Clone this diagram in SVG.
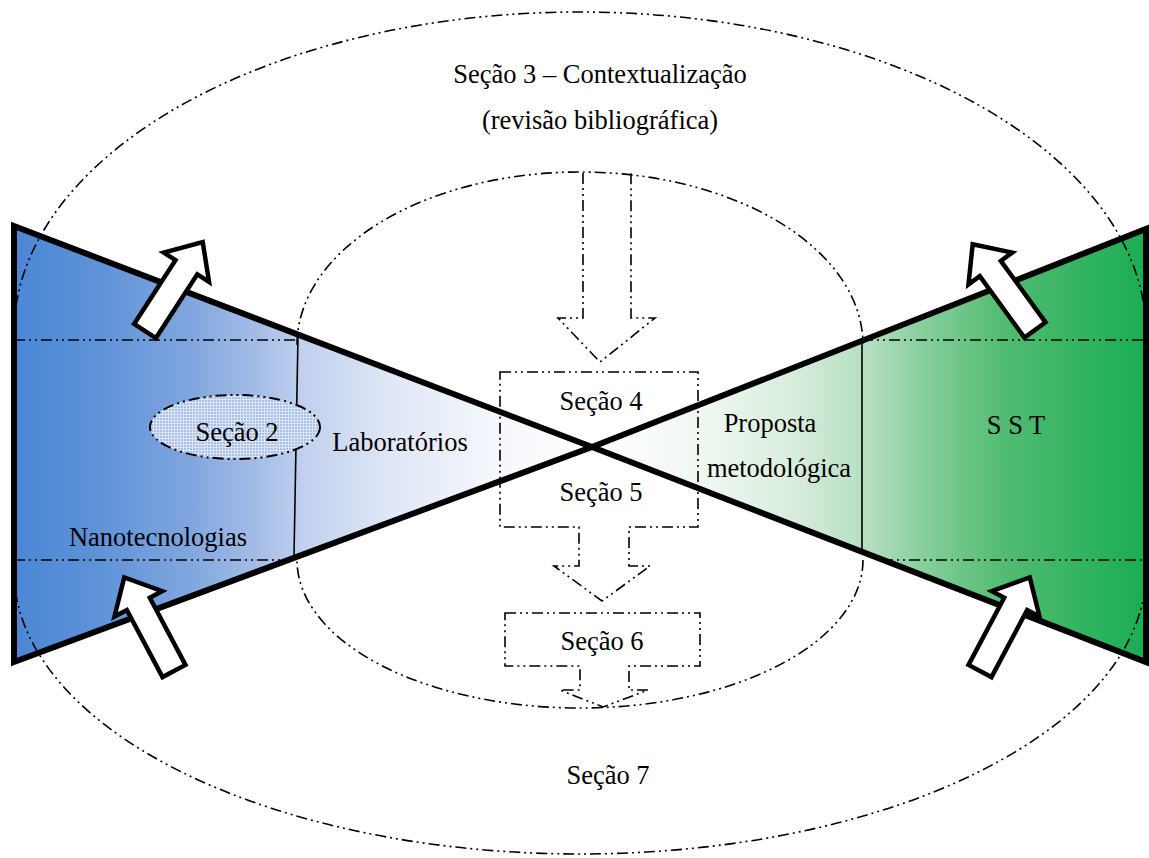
<svg xmlns="http://www.w3.org/2000/svg" width="1149" height="858" viewBox="0 0 1149 858">
<style>
.dd{fill:none;stroke:#000;stroke-width:1.6;stroke-dasharray:11 4 2 4 2 4}
.thin{fill:none;stroke:#000;stroke-width:1.6}
.t{font-family:"Liberation Serif","Times New Roman",serif;font-size:26.5px;fill:#000;text-anchor:middle}
.wa{fill:#fff;stroke:#000;stroke-width:4.5;stroke-linejoin:miter}
</style>
<defs>
<linearGradient id="gl" gradientUnits="userSpaceOnUse" x1="14" y1="0" x2="592" y2="0">
<stop offset="0" stop-color="#4b86d5"/><stop offset="0.15" stop-color="#5f93d8"/><stop offset="0.3" stop-color="#7fa5de"/><stop offset="0.42" stop-color="#a4bde6"/><stop offset="0.5" stop-color="#c0d0ee"/><stop offset="0.65" stop-color="#dfe7f6"/><stop offset="0.85" stop-color="#f6f8fc"/><stop offset="1" stop-color="#ffffff"/>
</linearGradient>
<linearGradient id="gr" gradientUnits="userSpaceOnUse" x1="1146" y1="0" x2="592" y2="0">
<stop offset="0" stop-color="#1aad52"/><stop offset="0.25" stop-color="#50bb71"/><stop offset="0.4" stop-color="#86ce9b"/><stop offset="0.5" stop-color="#b5dec0"/><stop offset="0.65" stop-color="#dbeedf"/><stop offset="0.85" stop-color="#f5faf6"/><stop offset="1" stop-color="#ffffff"/>
</linearGradient>
<pattern id="grid" patternUnits="userSpaceOnUse" width="3" height="3">
<rect width="3" height="3" fill="#a7bfe7"/>
<path d="M0,0.5H3M0.5,0V3" stroke="#fff" stroke-width="1" opacity="0.6"/>
</pattern>
<path id="warrow" d="M0,-13 L76,-13 L76,-27 L106,0 L76,27 L76,13 L0,13 Z"/>
</defs>

<g id="bowtie">
<polygon points="14,226 592,447 14,662" fill="url(#gl)"/>
<polygon points="1146,229 592,447 1146,662" fill="url(#gr)"/>
<line class="dd" x1="14" y1="340" x2="297" y2="340"/>
<line class="dd" x1="14" y1="560" x2="282" y2="560"/>
<line class="dd" x1="862" y1="340" x2="1146" y2="340"/>
<line class="dd" x1="882" y1="560" x2="1146" y2="560"/>
<line class="thin" x1="298" y1="335" x2="294" y2="556"/>
<line class="thin" x1="862" y1="338" x2="862" y2="552"/>
<path d="M14,226 L592,447 L1146,662 L1146,229 L592,447 L14,662 Z" fill="none" stroke="#000" stroke-width="6" stroke-linejoin="miter"/>
</g>

<g id="secao3">
<path class="dd" d="M14,333 A566,321 0 0 1 1146,333 L1146,571 A566,283 0 0 1 14,571 Z"/>
<text class="t" x="600" y="83">Seção 3 – Contextualização</text>
<text class="t" x="600" y="129">(revisão bibliográfica)</text>
</g>

<g id="inner">
<path class="dd" d="M297,345 A283,173 0 0 1 863,345"/>
<path class="dd" d="M863,560 A283,148 0 0 1 297,560"/>
</g>

<g id="secao2">
<ellipse cx="235" cy="427" rx="85" ry="32" fill="url(#grid)" stroke="#000" stroke-width="2" stroke-dasharray="11 4 2 4 2 4"/>
<text class="t" x="237" y="441">Seção 2</text>
</g>

<g id="labels">
<text class="t" x="400" y="451">Laboratórios</text>
<text class="t" x="158" y="546">Nanotecnologias</text>
<text class="t" x="770" y="432">Proposta</text>
<text class="t" x="779" y="477">metodológica</text>
<text class="t" x="1016" y="434">S S T</text>
<text class="t" x="608" y="784">Seção 7</text>
</g>

<g id="secao45">
<path class="dd" d="M500,372 H698 V527 H629 V566 H650 L602,601 L554,566 H579 V527 H500 Z"/>
<text class="t" x="601" y="410">Seção 4</text>
<text class="t" x="601" y="501">Seção 5</text>
</g>

<g id="secao6">
<path class="dd" d="M505,613 H700 V666 H629 V690 H648 L603,707 L560,690 H580 V666 H505 Z"/>
<text class="t" x="602" y="650">Seção 6</text>
</g>

<g id="connectors">
<path class="dd" d="M583,173 V318 H558 L600,362 L655,318 H631 V173"/>
<use href="#warrow" class="wa" transform="translate(145,331) rotate(-57)"/>
<use href="#warrow" class="wa" transform="translate(174,671) rotate(-118)"/>
<use href="#warrow" class="wa" transform="translate(1035,330) rotate(-126)"/>
<use href="#warrow" class="wa" transform="translate(980,671) rotate(-62)"/>
</g>
</svg>
